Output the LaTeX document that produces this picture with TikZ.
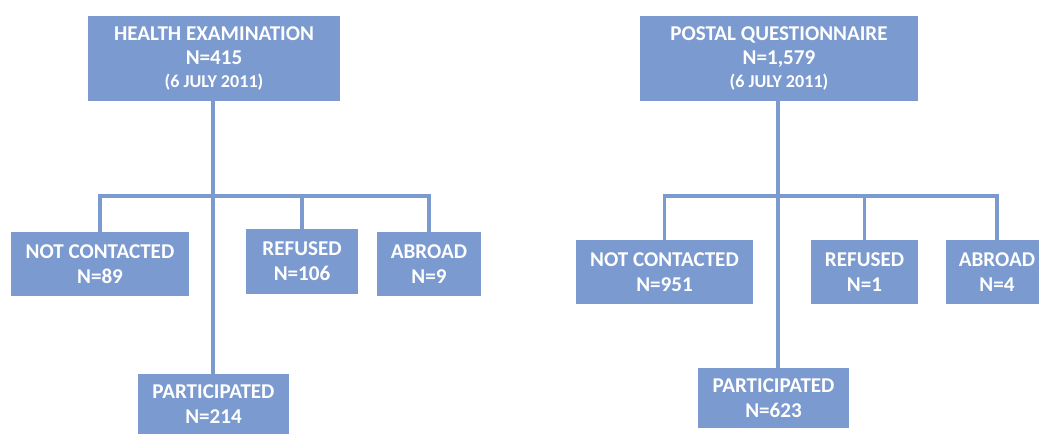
\documentclass[tikz,border=0pt]{standalone}
\usepackage{fontspec}
\setmainfont{Carlito}
\usepackage{xcolor}
\usepackage{tikz}
\usetikzlibrary{positioning,calc}
\definecolor{boxblue}{RGB}{123,154,207}
\newcommand{\datefont}{\fontsize{10.3}{11}\selectfont\bfseries}

\begin{document}
\begin{tikzpicture}[
  x=0.02cm, y=-0.02cm,
  font=\fontsize{12}{13.2}\selectfont\bfseries,
  box/.style={
    draw=none,
    fill=boxblue,
    text=white,
    align=center,
    inner sep=0pt
  },
  head/.style={
    box,
    minimum height=1.70cm
  },
  leaf/.style={
    box,
    minimum height=1.28cm
  },
  link/.style={
    draw=boxblue,
    line width=1.8pt
  }
]
\useasboundingbox (0,0) rectangle (1039,434);

% Health examination tree
\node[head, minimum width=5.04cm] (hexam) at (214,58.5)
  {HEALTH EXAMINATION\\[0pt] N=415\\[0pt] {\datefont (6 JULY 2011)}};
\node[leaf, minimum width=3.56cm] (hnc) at (100,264) {NOT CONTACTED\\[1pt] N=89};
\node[leaf, minimum width=2.24cm, minimum height=1.30cm] (href) at (302,261.5) {REFUSED\\[1pt] N=106};
\node[leaf, minimum width=2.08cm] (habr) at (429,264) {ABROAD\\[1pt] N=9};
\node[leaf, minimum width=3.02cm, minimum height=1.20cm] (hpart) at (213.5,404) {PARTICIPATED\\[1pt] N=214};
\coordinate (hbar) at (213,196);

\draw[link] (hexam.south -| hbar) -- (hbar |- hpart.north);
\draw[link] (hnc.north) |- (hbar) -| (habr.north);
\draw[link] (href.north) -- (href.north |- hbar);

% Postal questionnaire tree
\node[head, minimum width=5.56cm] (pquest) at (779,58.5)
  {POSTAL QUESTIONNAIRE\\[0pt] N=1,579\\[0pt] {\datefont (6 JULY 2011)}};
\node[leaf, minimum width=3.54cm] (pnc) at (664.5,272) {NOT CONTACTED\\[1pt] N=951};
\node[leaf, minimum width=2.14cm] (pref) at (864.5,272) {REFUSED\\[1pt] N=1};
\node[leaf, minimum width=2.04cm] (pabr) at (997,272) {ABROAD\\[1pt] N=4};
\node[leaf, minimum width=3.02cm, minimum height=1.20cm] (ppart) at (773.5,398) {PARTICIPATED\\[1pt] N=623};
\coordinate (pbar) at (778,196);

\draw[link] (pquest.south -| pbar) -- (pbar |- ppart.north);
\draw[link] (pnc.north) |- (pbar) -| (pabr.north);
\draw[link] (pref.north) -- (pref.north |- pbar);

\end{tikzpicture}
\end{document}
